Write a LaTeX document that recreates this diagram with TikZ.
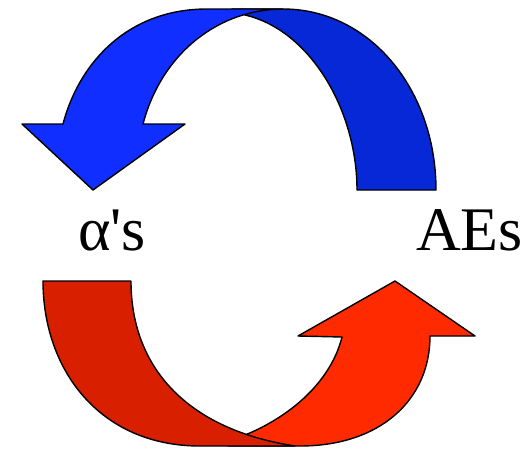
\documentclass[tikz,border=0pt]{standalone}
\usepackage{fontspec}
\setmainfont{Liberation Serif}[Ligatures=TeXOff]
\definecolor{bluefront}{RGB}{16,46,255}
\definecolor{blueback}{RGB}{6,40,214}
\definecolor{redback}{RGB}{216,32,0}
\definecolor{redfront}{RGB}{255,42,0}
\tikzset{band/.style={draw=black,line width=1.4pt,line join=round},
         lbl/.style={anchor=base west,inner sep=0pt,font=\fontsize{62}{62}\selectfont}}
\begin{document}
\begin{tikzpicture}[x=1pt,y=-1pt]
\useasboundingbox (0,0) rectangle (531,448);
% top blue arrow: back band
\draw[band,fill=blueback] (357,190) .. controls (357,110) and (310,30) .. (245,15)
  -- (232,9) -- (283,9) .. controls (370,9) and (436,90) .. (436,190) -- cycle;
% top blue arrow: front band with head
\draw[band,fill=bluefront] (143,124) -- (185,124) -- (93,190) -- (22,124) -- (63,124)
  .. controls (80,60) and (130,9) .. (207,9) -- (283,9)
  .. controls (220,9) and (162,52) .. (143,124) -- cycle;
% bottom red arrow: back band with head
\draw[band,fill=redfront] (342,337) -- (298,336) -- (395,281) -- (475,336) -- (430,336)
  .. controls (430,400) and (380,446) .. (300,446) -- (228,446) -- (240,437)
  .. controls (285,420) and (330,385) .. (342,337) -- cycle;
% bottom red arrow: front band
\draw[band,fill=redback] (43,281) -- (131,281) .. controls (131,370) and (190,430) .. (295,446)
  -- (200,446) .. controls (100,446) and (43,370) .. (43,281) -- cycle;
\node[lbl] (alpha) at (78,250) {α's};
\node[lbl] (aes) at (416,250) {AEs};
\end{tikzpicture}
\end{document}
